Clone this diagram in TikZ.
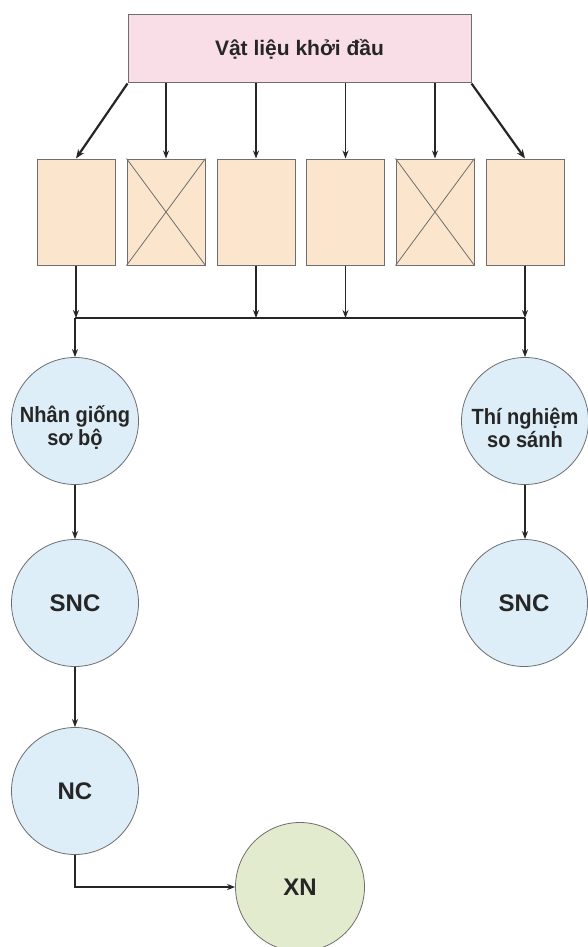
\documentclass[tikz,border=0pt]{standalone}
\usepackage{fontspec}
\setmainfont{Liberation Sans}
\newfontfamily\condfont{Liberation Sans}[FakeStretch=0.91]
\usetikzlibrary{arrows.meta}
\definecolor{pinkfill}{HTML}{F9DEE7}
\definecolor{peach}{HTML}{FBE6CD}
\definecolor{bluefill}{HTML}{DDEEF8}
\definecolor{greenfill}{HTML}{E3EBCF}
\definecolor{edge}{HTML}{6E6E6E}
\definecolor{ink}{HTML}{262626}
\tikzset{
  topbox/.style={draw=edge, line width=1pt, fill=pinkfill, minimum width=343pt, minimum height=68pt, inner sep=0pt, font=\fontsize{21}{23}\selectfont\bfseries, text=ink},
  smallbox/.style={draw=edge, line width=1pt, fill=peach, minimum width=78pt, minimum height=106pt, inner sep=0pt},
  stage/.style={circle, draw=edge, line width=0.8pt, fill=bluefill, minimum size=127pt, inner sep=0pt, align=center, text=ink},
  twoline/.style={align=center, text=ink, inner sep=0pt, font=\condfont\fontsize{22}{23}\selectfont\bfseries},
  oneline/.style={font=\fontsize{24}{26}\selectfont\bfseries},
  arr/.style={draw=ink, line width=1.6pt, -{Stealth[length=8pt,width=6pt]}},
  thickarr/.style={draw=ink, line width=2.2pt, -{Stealth[length=9pt,width=7pt]}},
  plain/.style={draw=ink, line width=1.6pt},
  cross/.style={draw=edge, line width=0.8pt}
}
\begin{document}
\begin{tikzpicture}[x=1pt, y=-1pt]
\useasboundingbox (0,0) rectangle (587,947);
\fill[white] (0,0) rectangle (587,947);

\node[topbox] (top) at (299.5,49) {Vật liệu khởi đầu};

\node[smallbox] (b1) at (76,212) {};
\node[smallbox] (b2) at (166,212) {};
\node[smallbox] (b3) at (256,212) {};
\node[smallbox] (b4) at (345.5,212) {};
\node[smallbox] (b5) at (435,212) {};
\node[smallbox] (b6) at (525,212) {};

\draw[cross] (b2.north west) -- (b2.south east) (b2.north east) -- (b2.south west);
\draw[cross] (b5.north west) -- (b5.south east) (b5.north east) -- (b5.south west);

\draw[thickarr] (top.south west) -- (b1.north);
\draw[thickarr] (top.south east) -- (b6.north);
\draw[arr] (b2.north |- top.south) -- (b2.north);
\draw[arr] (b3.north |- top.south) -- (b3.north);
\draw[arr] (b4.north |- top.south) -- (b4.north);
\draw[arr] (b5.north |- top.south) -- (b5.north);

\node[stage] (nhan) at (75,421) {};
\node[stage] (thi) at (525,421) {};
\node[twoline] (nhanT) at ([yshift=-7pt]nhan.center) {Nhân giống\\sơ bộ};
\node[twoline] (thiT) at ([yshift=-7pt]thi.center) {Thí nghiệm\\so sánh};
\node[stage, oneline] (snc1) at (75,603) {SNC};
\node[stage, oneline] (snc2) at (524,603) {SNC};
\node[stage, oneline] (nc) at (75,791) {NC};
\node[stage, oneline, fill=greenfill, minimum size=129pt] (xn) at (300,887) {XN};

\coordinate (barL) at (75,318);
\coordinate (barR) at (525,318);
\draw[plain] (barL) -- (barR);
\draw[arr] (b1.south) -- (b1.south |- barL);
\draw[arr] (b3.south) -- (b3.south |- barL);
\draw[arr] (b4.south) -- (b4.south |- barL);
\draw[arr] (b6.south) -- (b6.south |- barL);

\draw[arr] (barL) -- (nhan.north);
\draw[arr] (barR) -- (thi.north);
\draw[arr] (nhan.south) -- (snc1.north);
\draw[arr] (thi.south) -- (thi.south |- snc2.north);
\draw[arr] (snc1.south) -- (nc.north);
\draw[arr] (nc.south) |- (xn.west);
\end{tikzpicture}
\end{document}
